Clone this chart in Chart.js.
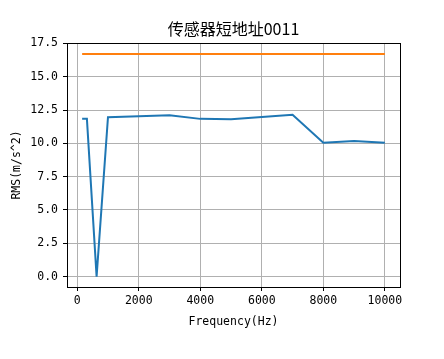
<!DOCTYPE html>
<html>
<head>
<meta charset="utf-8">
<script src="https://cdn.jsdelivr.net/npm/chart.js@4/dist/chart.umd.min.js"></script>
<style>
html,body{margin:0;padding:0;background:#fff;}
#wrap{width:444px;height:359px;}
</style>
</head>
<body>
<div id="wrap"><canvas id="c" width="444" height="359"></canvas></div>
<script>
const chartTitle = "传感器短地址0011";
const xLabel = "Frequency(Hz)";
const yLabel = "RMS(m/s^2)";
const frequencies = [160, 315, 630, 1000, 2000, 3000, 4000, 5000, 6000, 7000, 8000, 9000, 10000];
const rmsValues   = [11.84, 11.84, 0.0, 11.97, 12.04, 12.12, 11.84, 11.82, 11.98, 12.15, 10.05, 10.18, 10.05];
const limitValues = [16.7, 16.7, 16.7, 16.7, 16.7, 16.7, 16.7, 16.7, 16.7, 16.7, 16.7, 16.7, 16.7];
const xTicks = [0, 2000, 4000, 6000, 8000, 10000];
const yTicks = [0.0, 2.5, 5.0, 7.5, 10.0, 12.5, 15.0, 17.5];

const FONT = '"Noto Sans CJK SC", "DejaVu Sans", sans-serif';
const MONO = '"DejaVu Sans Mono", "Liberation Mono", monospace';

const blue = frequencies.map((f, i) => ({x: f, y: rmsValues[i]}));
const orange = frequencies.map((f, i) => ({x: f, y: limitValues[i]}));

const xr = frequencies[frequencies.length-1] - frequencies[0];
const yr = Math.max(...limitValues) - Math.min(...rmsValues);

const framePlugin = {
  id: 'frame',
  afterDraw(chart) {
    const {ctx, chartArea: a} = chart;
    ctx.save();
    ctx.strokeStyle = '#000';
    ctx.lineWidth = 1;
    ctx.strokeRect(Math.round(a.left)+0.5, Math.round(a.top)+0.5, Math.round(a.right-a.left), Math.round(a.bottom-a.top));
    ctx.fillStyle = '#000';
    ctx.textAlign = 'center';
    ctx.textBaseline = 'middle';
    ctx.font = '16px ' + FONT;
    ctx.fillText(chartTitle, (a.left + a.right)/2, 29);
    ctx.font = '11.5px ' + MONO;
    ctx.fillText(xLabel, (a.left + a.right)/2, 322);
    ctx.translate(17, (a.top + a.bottom)/2);
    ctx.rotate(-Math.PI/2);
    ctx.fillText(yLabel, 0, 0);
    ctx.restore();
  }
};

new Chart(document.getElementById('c'), {
  type: 'line',
  data: {
    datasets: [
      {data: blue, borderColor: '#1f77b4', borderWidth: 2, pointRadius: 0, tension: 0, fill: false},
      {data: orange, borderColor: '#ff7f0e', borderWidth: 2, pointRadius: 0, tension: 0, fill: false}
    ]
  },
  options: {
    responsive: false,
    animation: false,
    devicePixelRatio: 1,
    layout: {padding: {top: 43, right: 44, left: 0, bottom: 0}},
    plugins: {legend: {display: false}, title: {display: false}, tooltip: {enabled: false}},
    scales: {
      x: {
        type: 'linear',
        min: frequencies[0] - 0.05*xr,
        max: frequencies[frequencies.length-1] + 0.05*xr,
        afterBuildTicks: s => { s.ticks = xTicks.map(v => ({value: v})); },
        afterFit: s => { s.height = 72; },
        ticks: {
          autoSkip: false, maxRotation: 0, padding: 3,
          color: '#000', font: {family: MONO, size: 11.5},
          callback: v => String(v)
        },
        grid: {color: '#b0b0b0', lineWidth: 1, tickColor: '#000', tickLength: 4, drawTicks: true},
        border: {display: true, color: '#000', width: 1}
      },
      y: {
        type: 'linear',
        min: -0.78,
        max: Math.max(...limitValues) + 0.05*yr,
        afterBuildTicks: s => { s.ticks = yTicks.map(v => ({value: v})); },
        afterFit: s => { s.width = 67; },
        ticks: {
          autoSkip: false, padding: 5,
          color: '#000', font: {family: MONO, size: 11.5},
          callback: v => Number(v).toFixed(1)
        },
        grid: {color: '#b0b0b0', lineWidth: 1, tickColor: '#000', tickLength: 4, drawTicks: true},
        border: {display: true, color: '#000', width: 1}
      }
    }
  },
  plugins: [framePlugin]
});
</script>
</body>
</html>
